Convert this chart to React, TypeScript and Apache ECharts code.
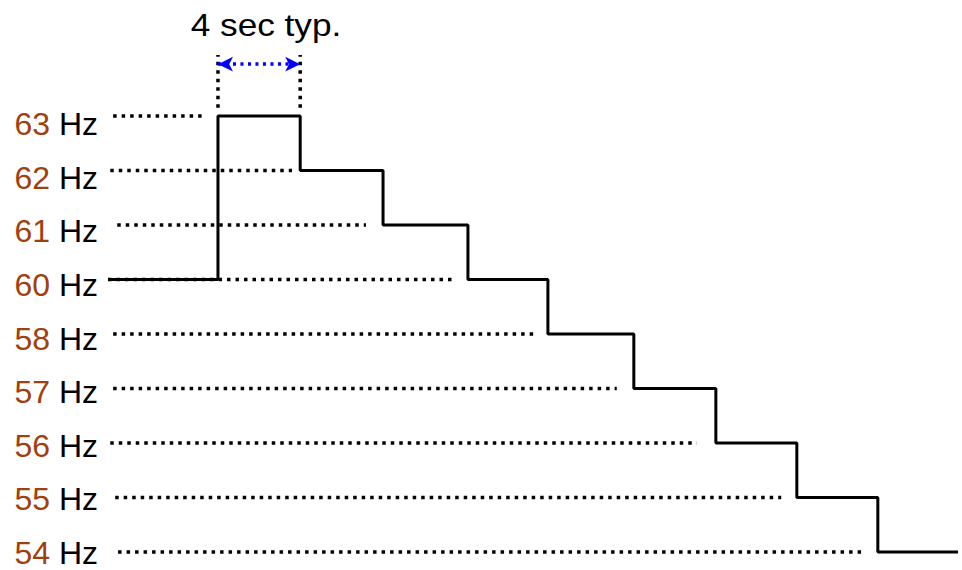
import React, { useEffect, useRef } from "react";
import * as echarts from "echarts";

// Frequency levels shown on the vertical axis, bottom to top (equally spaced rows)
const LEVELS_HZ = [54, 55, 56, 57, 58, 60, 61, 62, 63];

// Staircase: time (s) where each level starts, and the level held from then on
const STEP_TIMES = [-5.35, 0, 4.0, 8.03, 12.16, 16.05, 20.23, 24.22, 28.16, 32.1, 36];
const STEP_LEVELS = [60, 63, 62, 61, 60, 58, 57, 56, 55, 54, 54];

// Dotted guide lines for each level (same order as LEVELS_HZ), start / end time in s
const GUIDE_START = [-4.86, -5.0, -5.24, -5.1, -5.1, -5.35, -4.9, -5.24, -5.1];
const GUIDE_END = [31.4, 27.4, 23.3, 19.4, 15.4, 11.4, 7.2, 3.6, -0.78];

// "4 sec typ." dimension marker
const MARKER_TIMES = [0, 4];
const MARKER_SPAN = [8.15, 9.12]; // in row units (row 8 = 63 Hz)
const ARROW_ROW = 8.95;
const MARKER_TEXT = "4 sec typ.";

const FONT = "'Liberation Sans', Arial, Helvetica, sans-serif";

export default function App() {
  const ref = useRef<HTMLDivElement>(null);

  useEffect(() => {
    if (!ref.current) return;
    const chart = echarts.init(ref.current, undefined, { renderer: "svg" });
    const rowOf = (hz: number) => LEVELS_HZ.indexOf(hz);

    const guideSeries = LEVELS_HZ.map((hz, i) => ({
      type: "line",
      data: [
        [GUIDE_START[i], i],
        [GUIDE_END[i], i],
      ],
      symbol: "none",
      clip: false,
      silent: true,
      z: 2,
      lineStyle: { color: "#000", width: 3.5, type: [3.5, 5], cap: "butt" },
    }));

    const markerSeries = MARKER_TIMES.map((t) => ({
      type: "line",
      data: [
        [t, MARKER_SPAN[0]],
        [t, MARKER_SPAN[1]],
      ],
      symbol: "none",
      clip: false,
      silent: true,
      z: 2,
      lineStyle: { color: "#000", width: 3.5, type: [3.5, 5], cap: "butt" },
    }));

    chart.setOption({
      animation: false,
      backgroundColor: "#fff",
      grid: [
        // plotting grid
        { left: 108, right: 4, top: 0, bottom: 18, containLabel: false },
        // label grid (labels sit slightly below their dotted lines, as in the source)
        { left: 108, right: 4, top: 124, bottom: 17, containLabel: false },
      ],
      xAxis: [
        { type: "value", min: -5.35, max: 36, show: false, gridIndex: 0 },
        { type: "value", min: 0, max: 1, show: false, gridIndex: 1 },
      ],
      yAxis: [
        {
          type: "value",
          gridIndex: 0,
          min: 0,
          max: 10.128,
          interval: 1,
          axisLine: { show: false },
          axisTick: { show: false },
          splitLine: { show: false },
          axisLabel: { show: false },
        },
        {
          type: "category",
          gridIndex: 1,
          boundaryGap: false,
          data: LEVELS_HZ.map(String),
          axisLine: { show: false },
          axisTick: { show: false },
          splitLine: { show: false },
          axisLabel: {
            interval: 0,
            margin: 10,
            fontFamily: FONT,
            fontSize: 32,
            color: "#000",
            formatter: (v: string) => `{n|${v}} {h|Hz}`,
            rich: {
              n: { color: "#A0400E", fontSize: 32, fontFamily: FONT },
              h: { color: "#000", fontSize: 32, fontFamily: FONT },
            },
          },
        },
      ],
      graphic: [
        {
          type: "text",
          x: 266,
          y: 25,
          scaleX: 1.1,
          style: {
            text: MARKER_TEXT,
            fontFamily: FONT,
            fontSize: 32,
            fill: "#000",
            align: "center",
            verticalAlign: "middle",
          },
        },
      ],
      series: [
        ...guideSeries,
        ...markerSeries,
        {
          type: "line",
          data: [
            [MARKER_TIMES[0], ARROW_ROW],
            [MARKER_TIMES[1], ARROW_ROW],
          ],
          symbol: "none",
          clip: false,
          silent: true,
          z: 3,
          lineStyle: { opacity: 0 },
          markLine: {
            silent: true,
            symbol: ["arrow", "arrow"],
            symbolSize: [11, 15],
            label: { show: false },
            lineStyle: { color: "#0000FF", width: 3.5, type: [3, 4.5], cap: "butt" },
            itemStyle: { color: "#0000FF" },
            data: [
              [
                { coord: [MARKER_TIMES[0], ARROW_ROW] },
                { coord: [MARKER_TIMES[1], ARROW_ROW] },
              ],
            ],
          },
        },
        {
          type: "line",
          step: "end",
          data: STEP_TIMES.map((t, i) => [t, rowOf(STEP_LEVELS[i])]),
          symbol: "none",
          clip: false,
          silent: true,
          z: 5,
          lineStyle: { color: "#000", width: 3 },
        },
      ],
    });

    return () => chart.dispose();
  }, []);

  return <div ref={ref} style={{ width: 962, height: 570, position: "absolute", left: 0, top: 0 }} />;
}
